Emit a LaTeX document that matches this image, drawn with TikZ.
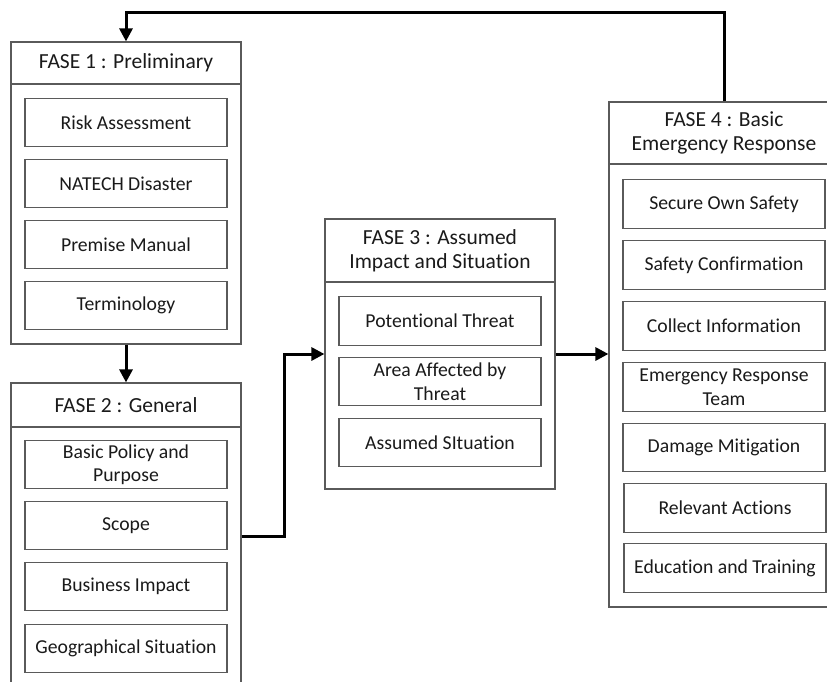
\documentclass[tikz,border=0pt]{standalone}
\usepackage{fontspec}
\setmainfont{Carlito}[Ligatures=NoCommon]
\usetikzlibrary{arrows.meta}
\definecolor{frame}{HTML}{5A5A5A}
\definecolor{ink}{HTML}{1A1A1A}
\tikzset{
  phase/.style={draw=frame, line width=1.2pt, fill=white, minimum width=230pt,
                inner sep=0pt},
  header/.style={phase, text=ink, align=center,
                 font=\fontsize{21.5}{23.7}\selectfont},
  task/.style={draw=frame, line width=1.2pt, fill=white, minimum width=202pt,
               minimum height=48.5pt, align=center, inner sep=0pt, text=ink,
               font=\fontsize{19.7}{23.5}\selectfont},
  flow/.style={draw=black, line width=3pt, -{Triangle[length=13pt,width=13pt]}},
}

\begin{document}
\begin{tikzpicture}[x=1pt, y=-1pt]
  % picture frame, in pixels of the original sheet (y runs downwards)
  \useasboundingbox (0,0) rectangle (827,682);
  \clip (0,0) rectangle (827,682);

  % --- phase frames and their headers -------------------------------------
  \node[phase, minimum height=302pt] (p1) at (126,193) {};
  \node[header, minimum height=42pt] (p1head) at (126,63) {FASE 1 : Preliminary};

  \node[phase, minimum height=317pt] (p2) at (126,541.5) {};
  \node[header, minimum height=44pt] (p2head) at (126,405) {FASE 2 : General};

  \node[phase, minimum height=270pt] (p3) at (440,354) {};
  \node[header, minimum height=63pt] (p3head) at (440,250.5)
       {FASE 3 : Assumed\\Impact and Situation};

  \node[phase, minimum height=505pt] (p4) at (724,354.5) {};
  \node[header, minimum height=62pt] (p4head) at (724,133)
       {FASE 4 : Basic\\Emergency Response};

  % --- tasks inside each phase ---------------------------------------------
  \node[task] (risk)    at (126,122.5) {Risk Assessment};
  \node[task] (natech)  at (126,183.5) {NATECH Disaster};
  \node[task] (premise) at (126,244.5) {Premise Manual};
  \node[task] (terms)   at (126,305.5) {Terminology};

  \node[task] (policy)  at (126,464.5) {Basic Policy and\\Purpose};
  \node[task] (scope)   at (126,525.5) {Scope};
  \node[task] (impact)  at (126,586.5) {Business Impact};
  \node[task] (geo)     at (126,648.5) {Geographical Situation};

  \node[task] (threat)  at (440,321)   {Potentional Threat};
  \node[task] (area)    at (440,381.5) {Area Affected by\\Threat};
  \node[task] (assumed) at (440,442.5) {Assumed SItuation};

  \node[task] (secure)  at (724,204)   {Secure Own Safety};
  \node[task] (confirm) at (724,265)   {Safety Confirmation};
  \node[task] (collect) at (724,326)   {Collect Information};
  \node[task] (team)    at (724,387)   {Emergency Response\\Team};
  \node[task] (damage)  at (724,447.5) {Damage Mitigation};
  \node[task] (actions) at (725,508)   {Relevant Actions};
  \node[task] (train)   at (725,568)   {Education and Training};

  % --- flows between phases ------------------------------------------------
  \coordinate (loop) at (0,13);
  \coordinate (bend) at (284,536);
  \draw[flow] (p1.south) -- (p2head.north);
  \draw[flow] (p2.east |- bend) -- (bend) |- (p3.west);
  \draw[flow] (p3.east) -- (p3.east -| p4.west);
  \draw[flow] (p4head.north) -- (p4head.north |- loop) -| (p1head.north);

\end{tikzpicture}
\end{document}
